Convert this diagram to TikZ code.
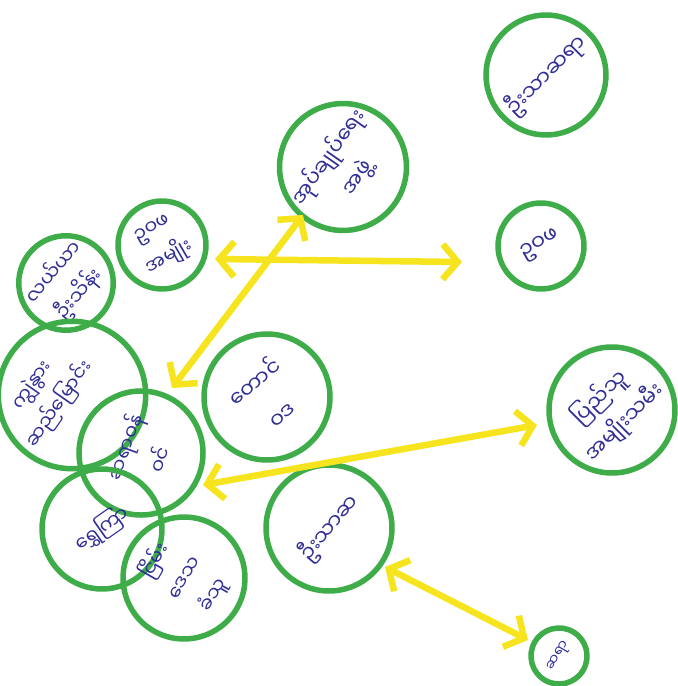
\documentclass[tikz,border=0pt]{standalone}
\usepackage{fontspec}
\newfontfamily\mmfont[Script=Myanmar]{Noto Sans Myanmar UI}
\usetikzlibrary{arrows.meta,calc}
\definecolor{pengreen}{RGB}{62,172,72}
\definecolor{penink}{RGB}{48,46,150}
\definecolor{penyellow}{RGB}{246,228,30}
\begin{document}
\begin{tikzpicture}[x=0.02cm, y=-0.02cm,
    bubble/.style = {shape=circle, draw=pengreen, line width=0.11cm, text=penink,
                     align=center, inner sep=0pt, font=\mmfont\fontsize{12}{20}\selectfont},
    small/.style = {font=\mmfont\fontsize{11}{19}\selectfont},
    link/.style = {draw=penyellow, line width=0.13cm, line cap=round,
                   {Straight Barb[length=3mm,width=7mm]}-{Straight Barb[length=3mm,width=7mm]}}]
    \useasboundingbox (0,0) rectangle (678,686);
    % circles
    \node[bubble, minimum size=2.4cm, rotate=45] (c1) at (546,75) {ဦးသာဆရာ};
    \node[bubble, minimum size=2.4cm, rotate=55] (c2) at (343,167) {အုပ်ချုပ်ရေး\\အဖွဲ့};
    \node[bubble, minimum size=1.72cm, rotate=30] (c3) at (541,246) {ဥဝဖ};
    \node[bubble, minimum size=1.76cm, rotate=30, small] (c4) at (162,245) {ဥဝဖ\\အမျိုး};
    \node[bubble, minimum size=1.8cm, rotate=50, small] (c5) at (66,283) {လယ်ယာ\\ဦးသိန်း};
    \node[bubble, minimum size=2.4cm, rotate=55, small, text width=2.2cm] (c6) at (72,395)
        {\hspace*{-6mm}ကျွဲနွား\\\hspace*{-6mm}ဆည်မြောင်း\\[8pt]~};
    \node[bubble, minimum size=2.52cm, rotate=40] (c7) at (267,397) {တောင်\\[4pt]ဝဒ};
    \node[bubble, minimum size=2.52cm, rotate=45] (c8) at (612,410) {ပြည်သူ\\အမျိုးသမီး};
    \node[bubble, minimum size=2.48cm, rotate=70, small] (c9) at (141,453) {ဆရာဝန်\\[2pt]ဝင်};
    \node[bubble, minimum size=2.4cm, rotate=35, small] (c10) at (102,529) {ရွှေကြာ};
    \node[bubble, minimum size=2.44cm, rotate=60, small] (c11) at (184,578) {ငြိမ်း\\ဒေသ\\ခံသူ};
    \node[bubble, minimum size=2.52cm, rotate=50] (c12) at (329,528) {ဦးသာဆ};
    \node[bubble, minimum size=1.12cm, rotate=60, font=\mmfont\fontsize{8}{10}\selectfont] (c13) at (559,656) {ဆရာ};
    % yellow links
    \draw[link] ($(c4)+(53,14)$) -- ($(c3)+(-79,16)$);
    \draw[link] ($(c2)+(-40,48)$) -- ($(c9)+(31,-65)$);
    \draw[link] ($(c8)+(-75,15)$) -- ($(c9)+(62,32)$);
    \draw[link] ($(c12)+(56,39)$) -- ($(c13)+(-31,-16)$);
\end{tikzpicture}
\end{document}
